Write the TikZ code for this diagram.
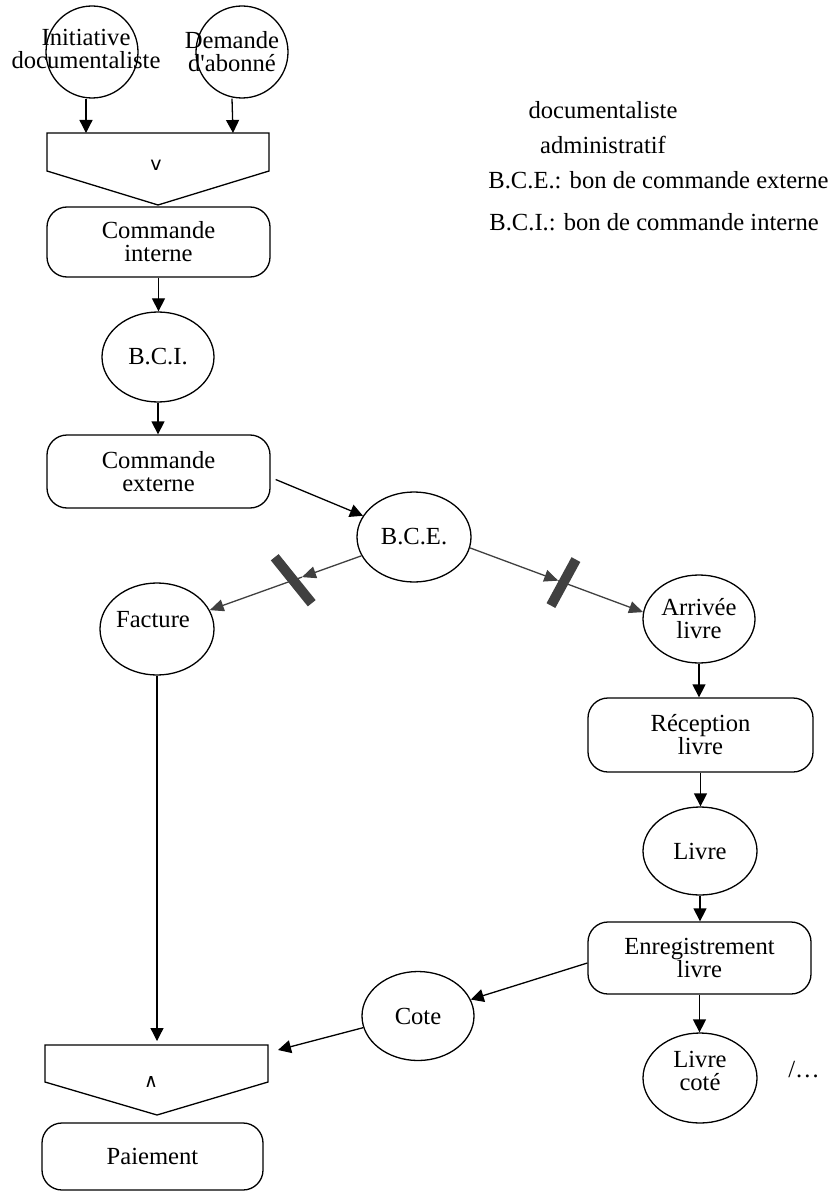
\documentclass[tikz,border=0pt]{standalone}
\usepackage{fontspec}
\setmainfont{Liberation Serif}
\newfontfamily\dejavu{DejaVu Sans}
\usetikzlibrary{shapes.geometric,arrows.meta,calc}
\definecolor{darkg}{HTML}{404040}
\begin{document}
\begin{tikzpicture}[x=0.5pt,y=-0.5pt,
  every node/.style={font=\fontsize{12.3pt}{11.5pt}\selectfont, align=center, inner sep=0pt},
  oval/.style 2 args={ellipse, draw, line width=0.65pt, minimum width=#1pt, minimum height=#2pt},
  proc/.style 2 args={rectangle, draw, rounded corners=10pt, line width=0.65pt, minimum width=#1pt, minimum height=#2pt},
  arr/.style={line width=0.65pt, -{Triangle[length=6.5pt,width=6.5pt]}},
  garr/.style={draw=darkg, line width=0.65pt, -{Triangle[length=7pt,width=6pt]}},
  slashbar/.style={line width=5pt, draw=darkg, line cap=butt},
  junction/.style={draw, line width=0.65pt, line join=miter}
]
\fill[white] (0,0) rectangle (829,1192);
\useasboundingbox (0,0) rectangle (829,1192);

% legend
\node (lg1) at (603,110) {documentaliste};
\node (lg2) at (603,145) {administratif};
\node[anchor=west] (lg3) at (488,180) {B.C.E.: bon de commande externe};
\node[anchor=west] (lg4) at (489,222) {B.C.I.: bon de commande interne};

% top sources
\node[oval={46}{46}] (init) at (92,52) {};
\node (initT) at (86,48.5) {Initiative\\documentaliste};
\node[oval={46}{46}] (dem) at (242,52) {};
\node (demT) at (232,51.5) {Demande\\d\textquotesingle abonné};

% OR junction
\draw[junction] (47,133) -- (269,133) -- (269,171) -- (158,205) -- (47,171) -- cycle;
\node (orL) at (156,165) {\dejavu\fontsize{9.5pt}{9.5pt}\selectfont v};
\coordinate (orIn1) at (86,133);
\coordinate (orIn2) at (233,133);

% left column
\node[proc={111.5}{35}] (ci) at (158.5,242) {Commande\\interne};
\node[oval={56}{45}] (bci) at (158,357) {B.C.I.};
\node[proc={111.5}{36.5}] (ce) at (158.5,471.5) {Commande\\externe};
\node[oval={57}{45}] (bce) at (414,537) {B.C.E.};
\node[oval={57}{46}] (fac) at (157,629) {};
\node (facT) at (153,620) {Facture};

% right column
\node[oval={56}{44}] (arv) at (699,619) {Arrivée\\livre};
\node[proc={112.5}{37}] (rec) at (700.5,735) {Réception\\livre};
\node[oval={57}{44}] (liv) at (700,851) {Livre};
\node[proc={111.5}{36}] (enr) at (699.5,958) {Enregistrement\\livre};
\node[oval={57}{45}] (lc) at (700,1078) {};
\node (lcT) at (700,1071) {Livre\\coté};
\node (etc) at (804,1070) {/…};
\node[oval={56}{44.5}] (cote) at (418,1016) {Cote};

% AND junction
\draw[junction] (45,1045) -- (268,1045) -- (268,1082) -- (157,1115) -- (45,1082) -- cycle;
\node (andL) at (151,1082) {\dejavu\fontsize{9.5pt}{9.5pt}\selectfont ∧};
\coordinate (andIn1) at (158,1041);
\coordinate (andIn2) at (278,1050);
\node[proc={110.5}{33.5}] (pay) at (152.5,1156.5) {Paiement};

% connectors
\draw[arr] (initT |- init.south) -- (orIn1);
\draw[arr] (demT |- dem.south) -- (orIn2);
\draw[arr] (ci.south) -- (ci.south |- bci.north);
\draw[arr] (bci.south) -- (bci.south |- ce.north);
\draw[arr] ([xshift=2.5pt,yshift=-4pt]ce.east) -- (bce);

\coordinate (t1) at ($(bce)!0.436!(fac)$);
\coordinate (s1) at ($(bce)!0.47!(fac)$);
\draw[garr] (bce) -- (t1);
\draw[garr] (t1) -- (fac);
\draw[slashbar] ($(s1)+(-18.5,-23)$) -- ($(s1)+(18.5,23)$);

\coordinate (t2) at ($(bce.349)!0.51!(arv.173)$);
\coordinate (s2) at ($(bce.349)!0.54!(arv.173)$);
\draw[garr] (bce.349) -- (t2);
\draw[garr] (t2) -- (arv.173);
\draw[slashbar] ($(s2)+(12.5,-23)$) -- ($(s2)+(-12.5,23)$);

\draw[arr] (arv.south) -- (arv.south |- rec.north);
\draw[arr] (rec.south) -- (rec.south |- liv.north);
\draw[arr] (liv.south) -- (liv.south |- enr.north);
\draw[arr] (enr.south) -- (enr.south |- lc.north);
\draw[arr] ([yshift=-2.5pt]enr.west) -- (cote);
\draw[arr] (cote.192) -- (andIn2);
\draw[arr] (fac.south) -- (fac.south |- andIn1);
\end{tikzpicture}
\end{document}
